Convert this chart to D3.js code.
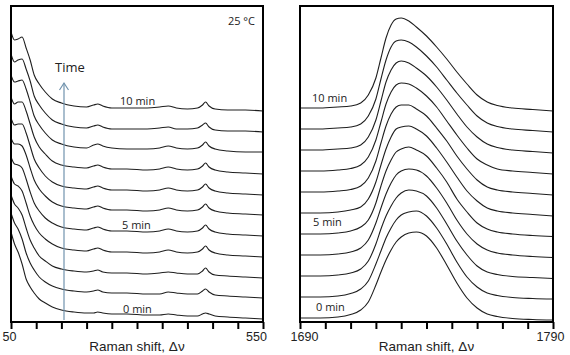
<!DOCTYPE html>
<html>
<head>
<meta charset="utf-8">
<script src="https://cdn.jsdelivr.net/npm/d3@7"></script>
<style>
  body { margin: 0; background: #fff; }
</style>
</head>
<body>
<div class="canvas"></div>
<script>
// raman shift grids (cm-1) for the two windows
const lowShift = [50, 57, 64, 72, 80, 88, 96, 106, 118, 132, 150, 175, 200, 214, 222, 232, 250, 280, 320, 345, 362, 378, 400, 420, 430, 436, 443, 455, 480, 515, 550];
const highShift = [1690, 1698, 1705, 1710, 1714, 1717, 1720, 1722, 1724, 1726, 1728, 1730, 1733, 1736, 1740, 1744, 1748, 1752, 1756, 1760, 1764, 1768, 1774, 1782, 1790];

// spectra from 0 min (first) to 10 min (last), intensity in a.u.
const lowSpectra = [
    [82, 70, 62, 50, 35, 27, 21, 15, 11, 7, 4, 2, 1, 1, 2, 1, 0, 0, -1, -1, 0, -1, -2, -2, 0, 1, 0, -2, -3, -4, -5],
    [80, 70, 64, 54, 40, 30, 23, 16, 11, 7, 4, 2, 1, 2, 3, 1, 0, 0, -1, -1, 1, 0, -1, -1, 2, 4, 1, -2, -3, -4, -5],
    [78, 69, 65, 58, 45, 33, 25, 17, 12, 7, 4, 2, 1, 2, 3, 1, 0, 0, -1, 0, 1, 0, -1, -1, 2, 5, 1, -2, -3, -4, -5],
    [76, 68, 66, 61, 49, 36, 27, 19, 13, 8, 4, 2, 1, 3, 4, 2, 0, 0, -1, 0, 2, 0, -1, 0, 3, 6, 2, -1, -3, -4, -5],
    [74, 67, 66, 63, 52, 39, 28, 20, 13, 8, 4, 2, 1, 3, 4, 2, 0, 0, -1, 0, 2, 0, -1, 0, 3, 6, 2, -1, -3, -4, -5],
    [72, 66, 66, 64, 55, 42, 30, 21, 14, 8, 4, 2, 1, 3, 4, 2, 0, 0, -1, 0, 2, 0, -1, 0, 3, 6, 2, -1, -3, -4, -5],
    [72, 65, 66, 66, 57, 44, 31, 22, 14, 8, 4, 2, 1, 3, 4, 2, 0, 0, -1, 0, 2, 0, -1, 0, 3, 6, 2, -1, -3, -4, -5],
    [72, 65, 67, 67, 58, 45, 32, 22, 15, 8, 4, 2, 1, 3, 4, 2, 0, 0, -1, 0, 2, 0, -1, 0, 3, 6, 2, -1, -3, -4, -5],
    [73, 66, 67, 68, 59, 46, 32, 23, 15, 8, 4, 1, 0, 3, 4, 2, 0, -1, -1, 0, 2, 0, -1, 0, 3, 6, 2, -1, -3, -4, -4],
    [74, 66, 68, 69, 59, 47, 32, 23, 15, 8, 4, 1, 0, 2, 3, 1, -1, -1, -1, 0, 1, -1, -1, 0, 3, 5, 1, -2, -3, -3, -4],
    [75, 67, 68, 70, 59, 47, 32, 23, 15, 8, 4, 1, 0, 2, 3, 1, -1, -1, -1, 0, 1, -1, -2, -1, 2, 5, 1, -2, -3, -3, -4]
];

const highSpectra = [
    [0, 0, 1, 3.5, 8, 16, 33, 46, 58, 68, 76, 81, 85, 86, 82, 70, 53, 35, 20, 10, 4, 1.5, -0.5, -1.5, -2],
    [0, 0, 1, 3.5, 8, 16, 33, 46, 59, 69, 77, 82, 85, 86, 81, 69, 53, 35, 20, 10, 4, 1.5, -0.5, -1.5, -2],
    [0, 0, 1, 3, 7, 15, 32, 47, 60, 70, 78, 83, 86, 85, 80, 68, 52, 35, 21, 10, 4, 1.5, -0.5, -1.5, -2.5],
    [0, 0, 1, 3, 7, 15, 32, 47, 61, 72, 80, 84, 86, 85, 79, 67, 52, 35, 21, 11, 5, 2, 0, -1.5, -2.5],
    [0, 0, 1, 3, 7, 14, 31, 48, 63, 74, 82, 85, 87, 84, 78, 66, 52, 35, 22, 11, 5, 2, 0, -1.5, -2.5],
    [0, 0, 1, 3, 6, 14, 31, 48, 64, 76, 84, 86, 87, 84, 77, 65, 51, 36, 22, 12, 5, 2, 0, -1.5, -3],
    [0, 0, 1, 2.5, 6, 14, 31, 49, 66, 78, 85, 87, 87, 83, 76, 64, 51, 36, 23, 12, 5, 2, 0, -1.5, -3],
    [0, 0, 1, 2.5, 6, 14, 31, 49, 67, 79, 86, 88, 87, 83, 75, 64, 50, 36, 23, 12, 6, 2, 0, -1.5, -3],
    [0, 0, 1, 2, 5, 13, 30, 49, 68, 80, 87, 89, 87, 82, 74, 63, 50, 36, 23, 13, 6, 2.5, 0, -1.5, -3],
    [0, 0, 1, 2, 5, 13, 30, 50, 69, 82, 88, 89, 87, 82, 73, 62, 49, 36, 24, 13, 6, 2.5, 0, -1.5, -3],
    [0, 0, 1, 2, 5, 13, 30, 50, 70, 83, 89, 90, 87, 81, 72, 61, 49, 36, 24, 13, 6, 2.5, 0, -1.5, -3]
];

// vertical offsets that stack the spectra
const lowOffset = [8, 29, 49, 70, 91, 112, 132, 153, 174, 194, 215];
const highOffset = [4, 25, 46, 67, 88, 109, 130, 151, 172, 193, 214];

// tick values
const lowTicks = [50, 100, 150, 200, 250, 300, 350, 400, 450, 500, 550];
const highTicks = [1690, 1700, 1710, 1720, 1730, 1740, 1750, 1760, 1770, 1780, 1790];

const timeLabels = ['0 min', '5 min', '10 min'];

const svg = d3.select('.canvas')
    .append('svg')
    .attr('width', 570)
    .attr('height', 355);

// shared intensity scale
const y = d3.scaleLinear()
    .domain([0, 316])
    .range([322, 6]);

const frameTop = 6, frameBottom = 322;

function drawPanel(opts) {
    const x = d3.scaleLinear()
        .domain(opts.domain)
        .range(opts.range);

    const g = svg.append('g');

    const line = d3.line()
        .x(d => x(d[0]))
        .y(d => y(d[1]))
        .curve(d3.curveMonotoneX);

    // one path per spectrum
    g.selectAll('path.spec')
        .data(opts.spectra)
        .enter()
        .append('path')
        .attr('class', 'spec')
        .attr('fill', 'none')
        .attr('stroke', '#1e1e1e')
        .attr('stroke-width', 1.1)
        .attr('d', (s, i) => line(s.map((v, j) => [opts.shift[j], v + opts.offset[i]])));

    // frame
    g.append('rect')
        .attr('x', opts.range[0])
        .attr('y', frameTop)
        .attr('width', opts.range[1] - opts.range[0])
        .attr('height', frameBottom - frameTop)
        .attr('fill', 'none')
        .attr('stroke', '#000')
        .attr('stroke-width', 2);

    // x axis, only end labels shown
    const ends = [opts.domain[0], opts.domain[1]];
    const xAxis = d3.axisBottom(x)
        .tickValues(opts.ticks)
        .tickSize(7)
        .tickSizeOuter(0)
        .tickFormat(d => ends.includes(d) ? d : '');

    const axisGroup = g.append('g')
        .attr('transform', `translate(0, ${frameBottom})`)
        .call(xAxis);

    axisGroup.select('.domain').remove();
    axisGroup.selectAll('line')
        .attr('stroke', '#000')
        .attr('stroke-width', 2);
    axisGroup.selectAll('text')
        .attr('font-family', 'Liberation Sans, Arial, sans-serif')
        .attr('font-size', 12.5)
        .attr('fill', '#222')
        .attr('dx', d => d === opts.domain[0] ? opts.labelShift[0] : opts.labelShift[1]);

    // axis title
    g.append('text')
        .attr('x', (opts.range[0] + opts.range[1]) / 2)
        .attr('y', 351)
        .attr('text-anchor', 'middle')
        .attr('font-family', 'Liberation Sans, Arial, sans-serif')
        .attr('font-size', 13.5)
        .attr('fill', '#222')
        .text('Raman shift, \u0394\u03bd');

    // time labels
    g.selectAll('text.time')
        .data(timeLabels)
        .enter()
        .append('text')
        .attr('class', 'time')
        .attr('x', (d, i) => opts.labelX[i])
        .attr('y', (d, i) => opts.labelY[i])
        .attr('font-family', 'Open Sans, sans-serif')
        .attr('font-size', 11)
        .attr('fill', '#222')
        .text(d => d);

    return x;
}

drawPanel({
    domain: [50, 550], range: [11, 263],
    shift: lowShift, spectra: lowSpectra, offset: lowOffset, ticks: lowTicks,
    labelX: [123, 122, 120], labelY: [313, 229, 105],
    labelShift: [-2, -7]
});

drawPanel({
    domain: [1690, 1790], range: [300, 553],
    shift: highShift, spectra: highSpectra, offset: highOffset, ticks: highTicks,
    labelX: [316, 313, 312], labelY: [311, 226, 102],
    labelShift: [4, -3]
});

// time arrow
const arrowColor = '#7193ad';
svg.append('line')
    .attr('x1', 64).attr('x2', 64)
    .attr('y1', 320).attr('y2', 83)
    .attr('stroke', arrowColor)
    .attr('stroke-width', 1.2);

svg.append('path')
    .attr('d', 'M59.5,90 L64,83 L68.5,90')
    .attr('fill', 'none')
    .attr('stroke', arrowColor)
    .attr('stroke-width', 1.2);

svg.append('text')
    .attr('x', 70)
    .attr('y', 72)
    .attr('text-anchor', 'middle')
    .attr('font-family', 'Open Sans, sans-serif')
    .attr('font-size', 13)
    .attr('fill', '#222')
    .text('Time');

svg.append('text')
    .attr('x', 255)
    .attr('y', 25)
    .attr('text-anchor', 'end')
    .attr('font-family', 'Open Sans, sans-serif')
    .attr('font-size', 11)
    .attr('fill', '#222')
    .text('25 \u00b0C');
</script>
</body>
</html>
